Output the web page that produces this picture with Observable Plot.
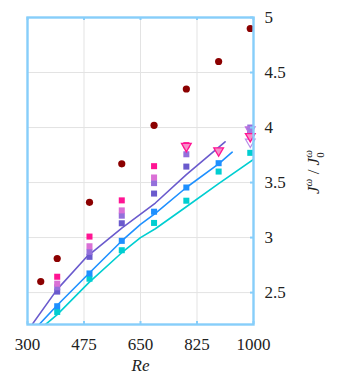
<!DOCTYPE html>
<html>
<head>
<meta charset="utf-8">
<script src="https://cdn.jsdelivr.net/npm/d3@7"></script>
<script src="https://cdn.jsdelivr.net/npm/@observablehq/plot@0.6"></script>
<style>
  html, body { margin: 0; padding: 0; background: #fff; }
  #chart svg, #chart svg text { font-family: "Liberation Serif", "DejaVu Serif", serif !important; }
</style>
</head>
<body>
<div id="chart"></div>
<script>
// ---- tick labels ----
const xTicks = [300, 475, 650, 825, 1000];
const yTicks = [2.5, 3, 3.5, 4, 4.5, 5];

// ---- dark red circles ----
const circleRe  = [341, 392, 492, 592, 692, 792, 892, 990];
const circleVal = [2.60, 2.81, 3.32, 3.67, 4.02, 4.35, 4.60, 4.90];

// ---- square series ----
const pinkRe   = [392, 492, 592, 692, 792];
const pinkVal  = [2.644, 3.009, 3.338, 3.649, 3.84];
const orchidRe  = [392, 492, 592, 692];
const orchidVal = [2.581, 2.921, 3.247, 3.546];
const purpleRe  = [392, 492, 592, 692, 792, 990];
const purpleVal = [2.548, 2.870, 3.199, 3.495, 3.757, 4.00];
const slateRe   = [392, 492, 592, 692, 792, 990];
const slateVal  = [2.509, 2.825, 3.130, 3.400, 3.645, 3.96];
const dodgerRe  = [392, 492, 592, 692, 792, 892];
const dodgerVal = [2.376, 2.674, 2.970, 3.235, 3.455, 3.676];
const turqRe    = [392, 492, 592, 692, 792, 892, 990];
const turqVal   = [2.324, 2.626, 2.885, 3.133, 3.335, 3.600, 3.77];

// ---- inverted triangles ----
const triPinkRe  = [792, 892, 990];
const triPinkVal = [3.83, 3.79, 3.92];
const triLavRe   = [990];
const triLavVal  = [3.87];
const triPurRe   = [990];
const triPurVal  = [3.98];

// ---- lines ----
const slateLineRe  = [300, 315, 392, 485, 593, 696, 792, 912];
const slateLineVal = [2.16, 2.213, 2.529, 2.83, 3.088, 3.314, 3.572, 3.87];
const dodgerLineRe  = [300, 336, 392, 490, 591, 650, 696, 792, 892, 934];
const dodgerLineVal = [2.10, 2.21, 2.385, 2.674, 2.967, 3.12, 3.22, 3.455, 3.67, 3.776];
const turqLineRe  = [330, 357, 392, 490, 591, 650, 696, 792, 892, 1000];
const turqLineVal = [2.13, 2.213, 2.30, 2.59, 2.86, 3.0, 3.08, 3.28, 3.49, 3.71];

const zip = (xs, ys) => xs.map((x, i) => ({x, y: ys[i]}));

const C = {
  frame: "#87cefa", grid: "#e3e3e3", red: "#8b0000",
  pink: "#ff1493", orchid: "#da70d6", purple: "#9370db",
  slate: "#6a5acd", dodger: "#1e90ff", turq: "#00ced1"
};

const FONT = "Liberation Serif, DejaVu Serif, serif";
const W = 360, H = 384, mL = 27, mR = 107, mT = 17, mB = 60;
const innerW = W - mL - mR, innerH = H - mT - mB;
const sq = 3.4;

const squares = (xs, ys, color) => Plot.dot(zip(xs, ys), {x: "x", y: "y", symbol: "square", r: sq, fill: color, stroke: "none"});
const line = (xs, ys, color) => Plot.line(zip(xs, ys), {x: "x", y: "y", stroke: color, strokeWidth: 1.6, clip: true, curve: "linear"});

const chart = Plot.plot({
  width: W, height: H,
  marginLeft: mL, marginRight: mR, marginTop: mT, marginBottom: mB,
  style: {fontFamily: FONT, fontSize: "17px", background: "#fff", color: "#222"},
  x: {domain: [300, 1000]},
  y: {domain: [2.21, 5]},
  marks: [
    Plot.gridX(xTicks, {stroke: C.grid, strokeOpacity: 1, strokeWidth: 1}),
    Plot.gridY(yTicks, {stroke: C.grid, strokeOpacity: 1, strokeWidth: 1}),
    line(turqLineRe, turqLineVal, C.turq),
    line(dodgerLineRe, dodgerLineVal, C.dodger),
    line(slateLineRe, slateLineVal, C.slate),
    Plot.dot(zip(circleRe, circleVal), {x: "x", y: "y", r: 3.6, fill: C.red, stroke: "none"}),
    squares(turqRe, turqVal, C.turq),
    squares(dodgerRe, dodgerVal, C.dodger),
    squares(slateRe, slateVal, C.slate),
    squares(purpleRe, purpleVal, C.purple),
    squares(orchidRe, orchidVal, C.orchid),
    squares(pinkRe, pinkVal, C.pink),
    Plot.dot(zip(triPurRe, triPurVal), {x: "x", y: "y", symbol: "triangle", rotate: 180, r: 3.6, fill: "#a07ce0", stroke: "#c070e0", strokeWidth: 1.2}),
    Plot.dot(zip(triLavRe, triLavVal), {x: "x", y: "y", symbol: "triangle", rotate: 180, r: 3.6, fill: "none", stroke: "#b890e8", strokeWidth: 1.2}),
    Plot.dot(zip(triPinkRe, triPinkVal), {x: "x", y: "y", symbol: "triangle", rotate: 180, r: 3.6, fill: "#f78fc8", stroke: C.pink, strokeWidth: 1.3}),
    Plot.frame({stroke: C.frame, strokeWidth: 2.4}),
    // inward ticks: bottom, top, right
    Plot.tickX(xTicks, {x: d => d, stroke: C.frame, strokeWidth: 2, insetTop: innerH - 3}),
    Plot.tickX(xTicks, {x: d => d, stroke: C.frame, strokeWidth: 2, insetBottom: innerH - 3}),
    Plot.tickY(yTicks, {y: d => d, stroke: C.frame, strokeWidth: 2, insetLeft: innerW - 3}),
    Plot.axisX(xTicks, {anchor: "bottom", tickSize: 0, tickPadding: 13, fontSize: 17, fontFamily: FONT, label: null, tickFormat: d => String(d)}),
    Plot.axisY(yTicks, {anchor: "right", tickSize: 0, tickPadding: 11, fontSize: 17, fontFamily: FONT, label: null, tickFormat: d => String(d), textAnchor: "start"}),
    Plot.text(["Re"], {frameAnchor: "bottom", dy: 46, fontStyle: "italic", fontSize: 17, fontFamily: FONT, fill: "#222"})
  ]
});

// y-axis label with super/subscripts
const svg = d3.select(chart);
const lab = svg.append("text")
  .attr("transform", "translate(319,172) rotate(-90)")
  .attr("text-anchor", "middle")
  .attr("font-family", FONT)
  .attr("font-size", 17)
  .attr("fill", "#222");
lab.append("tspan").attr("font-style", "italic").text("J");
lab.append("tspan").attr("font-style", "italic").attr("font-size", 11).attr("dy", -7).text("ω");
lab.append("tspan").attr("dy", 7).text(" / ");
lab.append("tspan").attr("font-style", "italic").text("J");
lab.append("tspan").attr("font-size", 11).attr("dy", 5).text("0");
lab.append("tspan").attr("font-style", "italic").attr("font-size", 11).attr("dx", -5.5).attr("dy", -12).text("ω");

document.getElementById("chart").appendChild(chart);
</script>
</body>
</html>
